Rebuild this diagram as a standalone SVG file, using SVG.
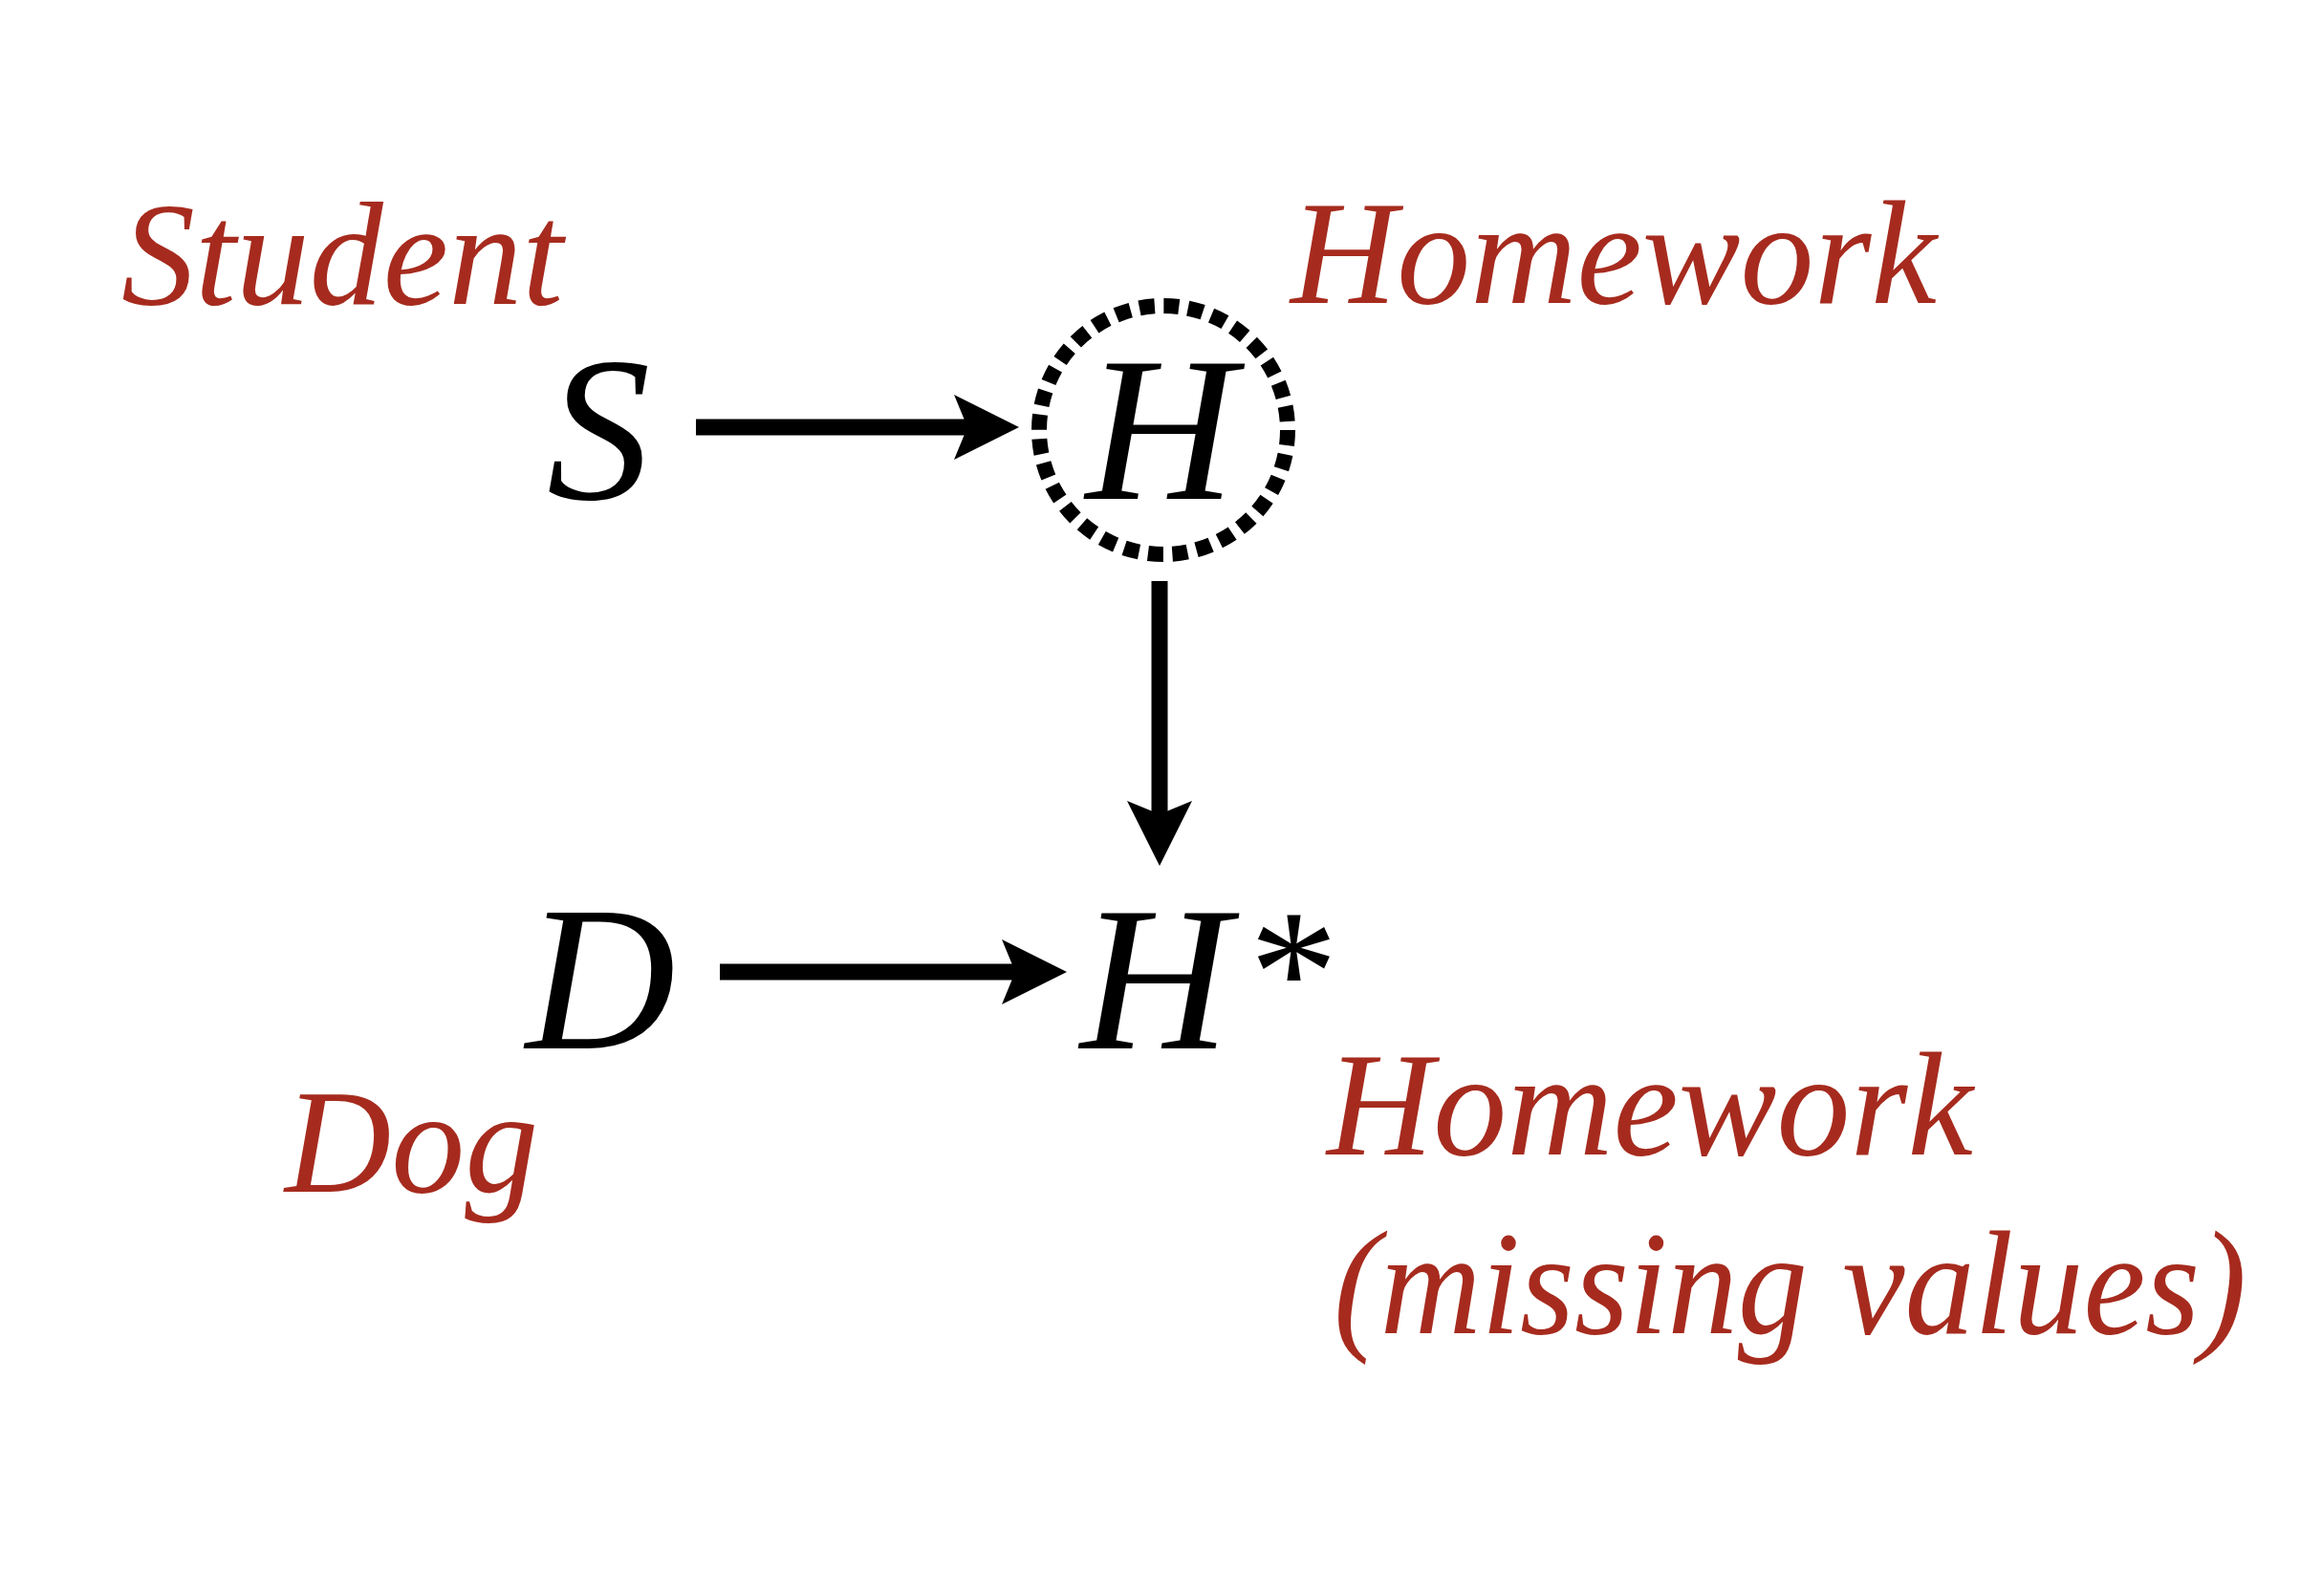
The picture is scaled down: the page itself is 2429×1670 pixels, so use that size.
<svg xmlns="http://www.w3.org/2000/svg" width="2429" height="1670" viewBox="0 0 2429 1670">
<style>
.lbl{font-family:"Liberation Serif","Times New Roman",serif;font-style:italic;font-size:154px;fill:#a62b1e}
.var{font-family:"Liberation Serif","Times New Roman",serif;font-style:italic;font-size:217px;fill:#000}
.edge{stroke:#000;stroke-width:17;fill:none}
.head{fill:#000;stroke:none}
</style>
<rect width="2429" height="1670" fill="#fff"/>
<g id="label-student"><text class="lbl" x="127" y="318">Student</text></g>
<g id="label-homework"><text class="lbl" x="1350" y="317">Homework</text></g>
<g id="label-dog"><text class="lbl" x="298" y="1247">Dog</text></g>
<g id="label-homework-missing">
<text class="lbl" x="1388" y="1208">Homework</text>
<text class="lbl" x="1395" y="1395" textLength="955" lengthAdjust="spacingAndGlyphs">(missing values)</text>
</g>
<g id="node-S"><text class="var" x="572" y="522">S</text></g>
<g id="node-H">
<circle cx="1217" cy="450" r="130" fill="none" stroke="#000" stroke-width="16" stroke-dasharray="16 9.53"/>
<text class="var" x="1214" y="522" text-anchor="middle">H</text>
</g>
<g id="node-D"><text class="var" x="550" y="1097">D</text></g>
<g id="node-Hstar">
<text class="var" x="1130" y="1097">H<tspan x="1298" y="1080" font-size="186">*</tspan></text>
</g>
<g id="connectors">
<line class="edge" x1="728" y1="447" x2="1012" y2="447"/>
<path class="head" d="M1066 447 L998 413 L1012 447 L998 481 Z"/>
<line class="edge" x1="1213" y1="608" x2="1213" y2="852"/>
<path class="head" d="M1213 906 L1179 838 L1213 852 L1247 838 Z"/>
<line class="edge" x1="753" y1="1017" x2="1062" y2="1017"/>
<path class="head" d="M1116 1017 L1048 983 L1062 1017 L1048 1051 Z"/>
</g>
</svg>
